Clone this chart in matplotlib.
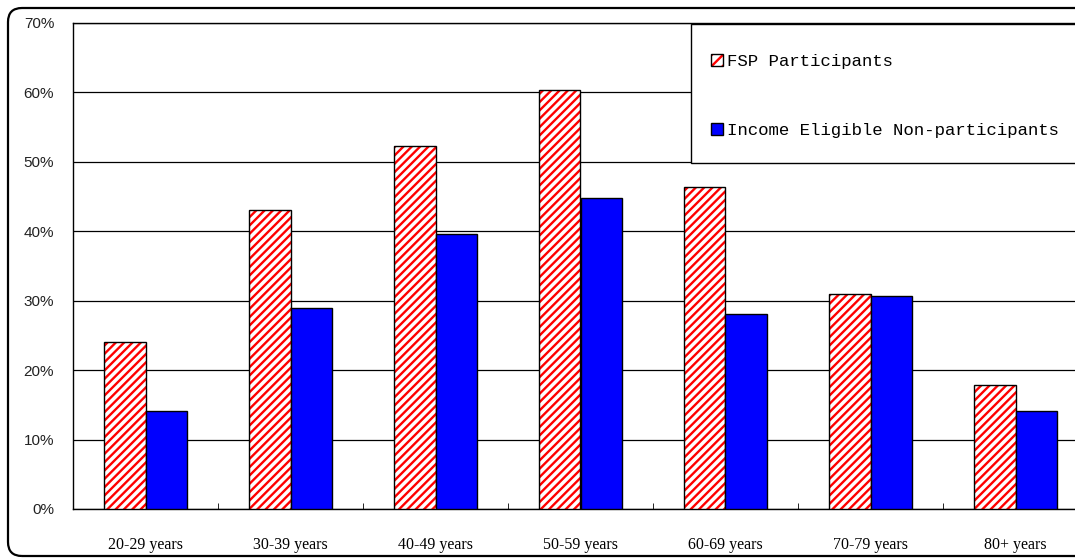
import numpy as np
import matplotlib
matplotlib.use("Agg")
import matplotlib.pyplot as plt
from matplotlib.patches import FancyBboxPatch, Rectangle
from matplotlib.ticker import FixedLocator, PercentFormatter

# ==== data ====
age_groups = ["20-29 years", "30-39 years", "40-49 years", "50-59 years",
              "60-69 years", "70-79 years", "80+ years"]
fsp_participants = [24.0, 43.1, 52.3, 60.4, 46.4, 31.0, 17.9]
eligible_nonpart = [14.1, 29.0, 39.6, 44.8, 28.1, 30.7, 14.1]

# ==== style ====
plt.rcParams["hatch.linewidth"] = 1.7
W, H, DPI = 1075, 559, 100
bar_w = 0.283

fig = plt.figure(figsize=(W / DPI, H / DPI), dpi=DPI)
ax = fig.add_axes([73 / W, 50 / H, (1088 - 73) / W, (509 - 23) / H])

x = np.arange(len(age_groups))
# red diagonal stripes: hatch painted in red, then outlined in black
ax.bar(x - bar_w / 2, fsp_participants, bar_w, color="white", edgecolor="#ff0000",
       hatch="////", linewidth=0, zorder=3)
ax.bar(x - bar_w / 2, fsp_participants, bar_w, color="none", edgecolor="black",
       linewidth=1, zorder=4)
ax.bar(x + bar_w / 2, eligible_nonpart, bar_w, color="#0000ff", edgecolor="black",
       linewidth=1, zorder=4)

ax.set_xlim(-0.5, len(age_groups) - 0.5)
ax.set_ylim(0, 70)
ax.set_yticks(np.arange(0, 71, 10))
ax.yaxis.set_major_formatter(PercentFormatter(decimals=0))
ax.grid(axis="y", color="black", linewidth=0.9, zorder=1)
ax.set_axisbelow(True)

ax.set_xticks(x)
ax.set_xticklabels(age_groups, family="Liberation Serif", fontsize=11.5)
ax.xaxis.set_minor_locator(FixedLocator(np.arange(0.5, len(age_groups) - 1, 1)))
ax.tick_params(axis="x", which="major", length=0, pad=20)
ax.tick_params(axis="x", which="minor", direction="in", length=4, color="black")
ax.tick_params(axis="y", length=0, pad=13.5)
for lab in ax.get_yticklabels():
    lab.set_family("Liberation Sans")
    lab.set_fontsize(11)
    lab.set_color("#222222")

for sp in ax.spines.values():
    sp.set_color("black")
    sp.set_linewidth(1)

# legend: frame drawn as its own box, entries placed inside it
legend_box = Rectangle((691, H - 163), 450, 139, transform=None, facecolor="white",
                       edgecolor="black", linewidth=1, zorder=5)
fig.add_artist(legend_box)

h1 = (Rectangle((0, 0), 1, 1, facecolor="white", edgecolor="#ff0000", hatch="///", linewidth=0),
      Rectangle((0, 0), 1, 1, facecolor="none", edgecolor="black", linewidth=1))
h2 = Rectangle((0, 0), 1, 1, facecolor="#0000ff", edgecolor="black", linewidth=1)
leg = fig.legend([h1, h2], ["FSP Participants", "Income Eligible Non-participants"],
                 loc="upper left", bbox_to_anchor=(711 / W, 1 - 53.5 / H),
                 prop={"family": "Liberation Mono", "size": 12.5},
                 handlelength=0.7, handleheight=0.7, handletextpad=0.2,
                 labelspacing=3.14, borderpad=0, borderaxespad=0,
                 frameon=False)
leg.set_zorder(6)

# rounded outer border of the chart area
border = FancyBboxPatch((8, 3), 1150, 548, boxstyle="round,pad=0,rounding_size=14",
                        transform=None, facecolor="none", edgecolor="black",
                        linewidth=1.6, clip_on=False)
fig.add_artist(border)

fig.savefig("out.png", dpi=DPI)
